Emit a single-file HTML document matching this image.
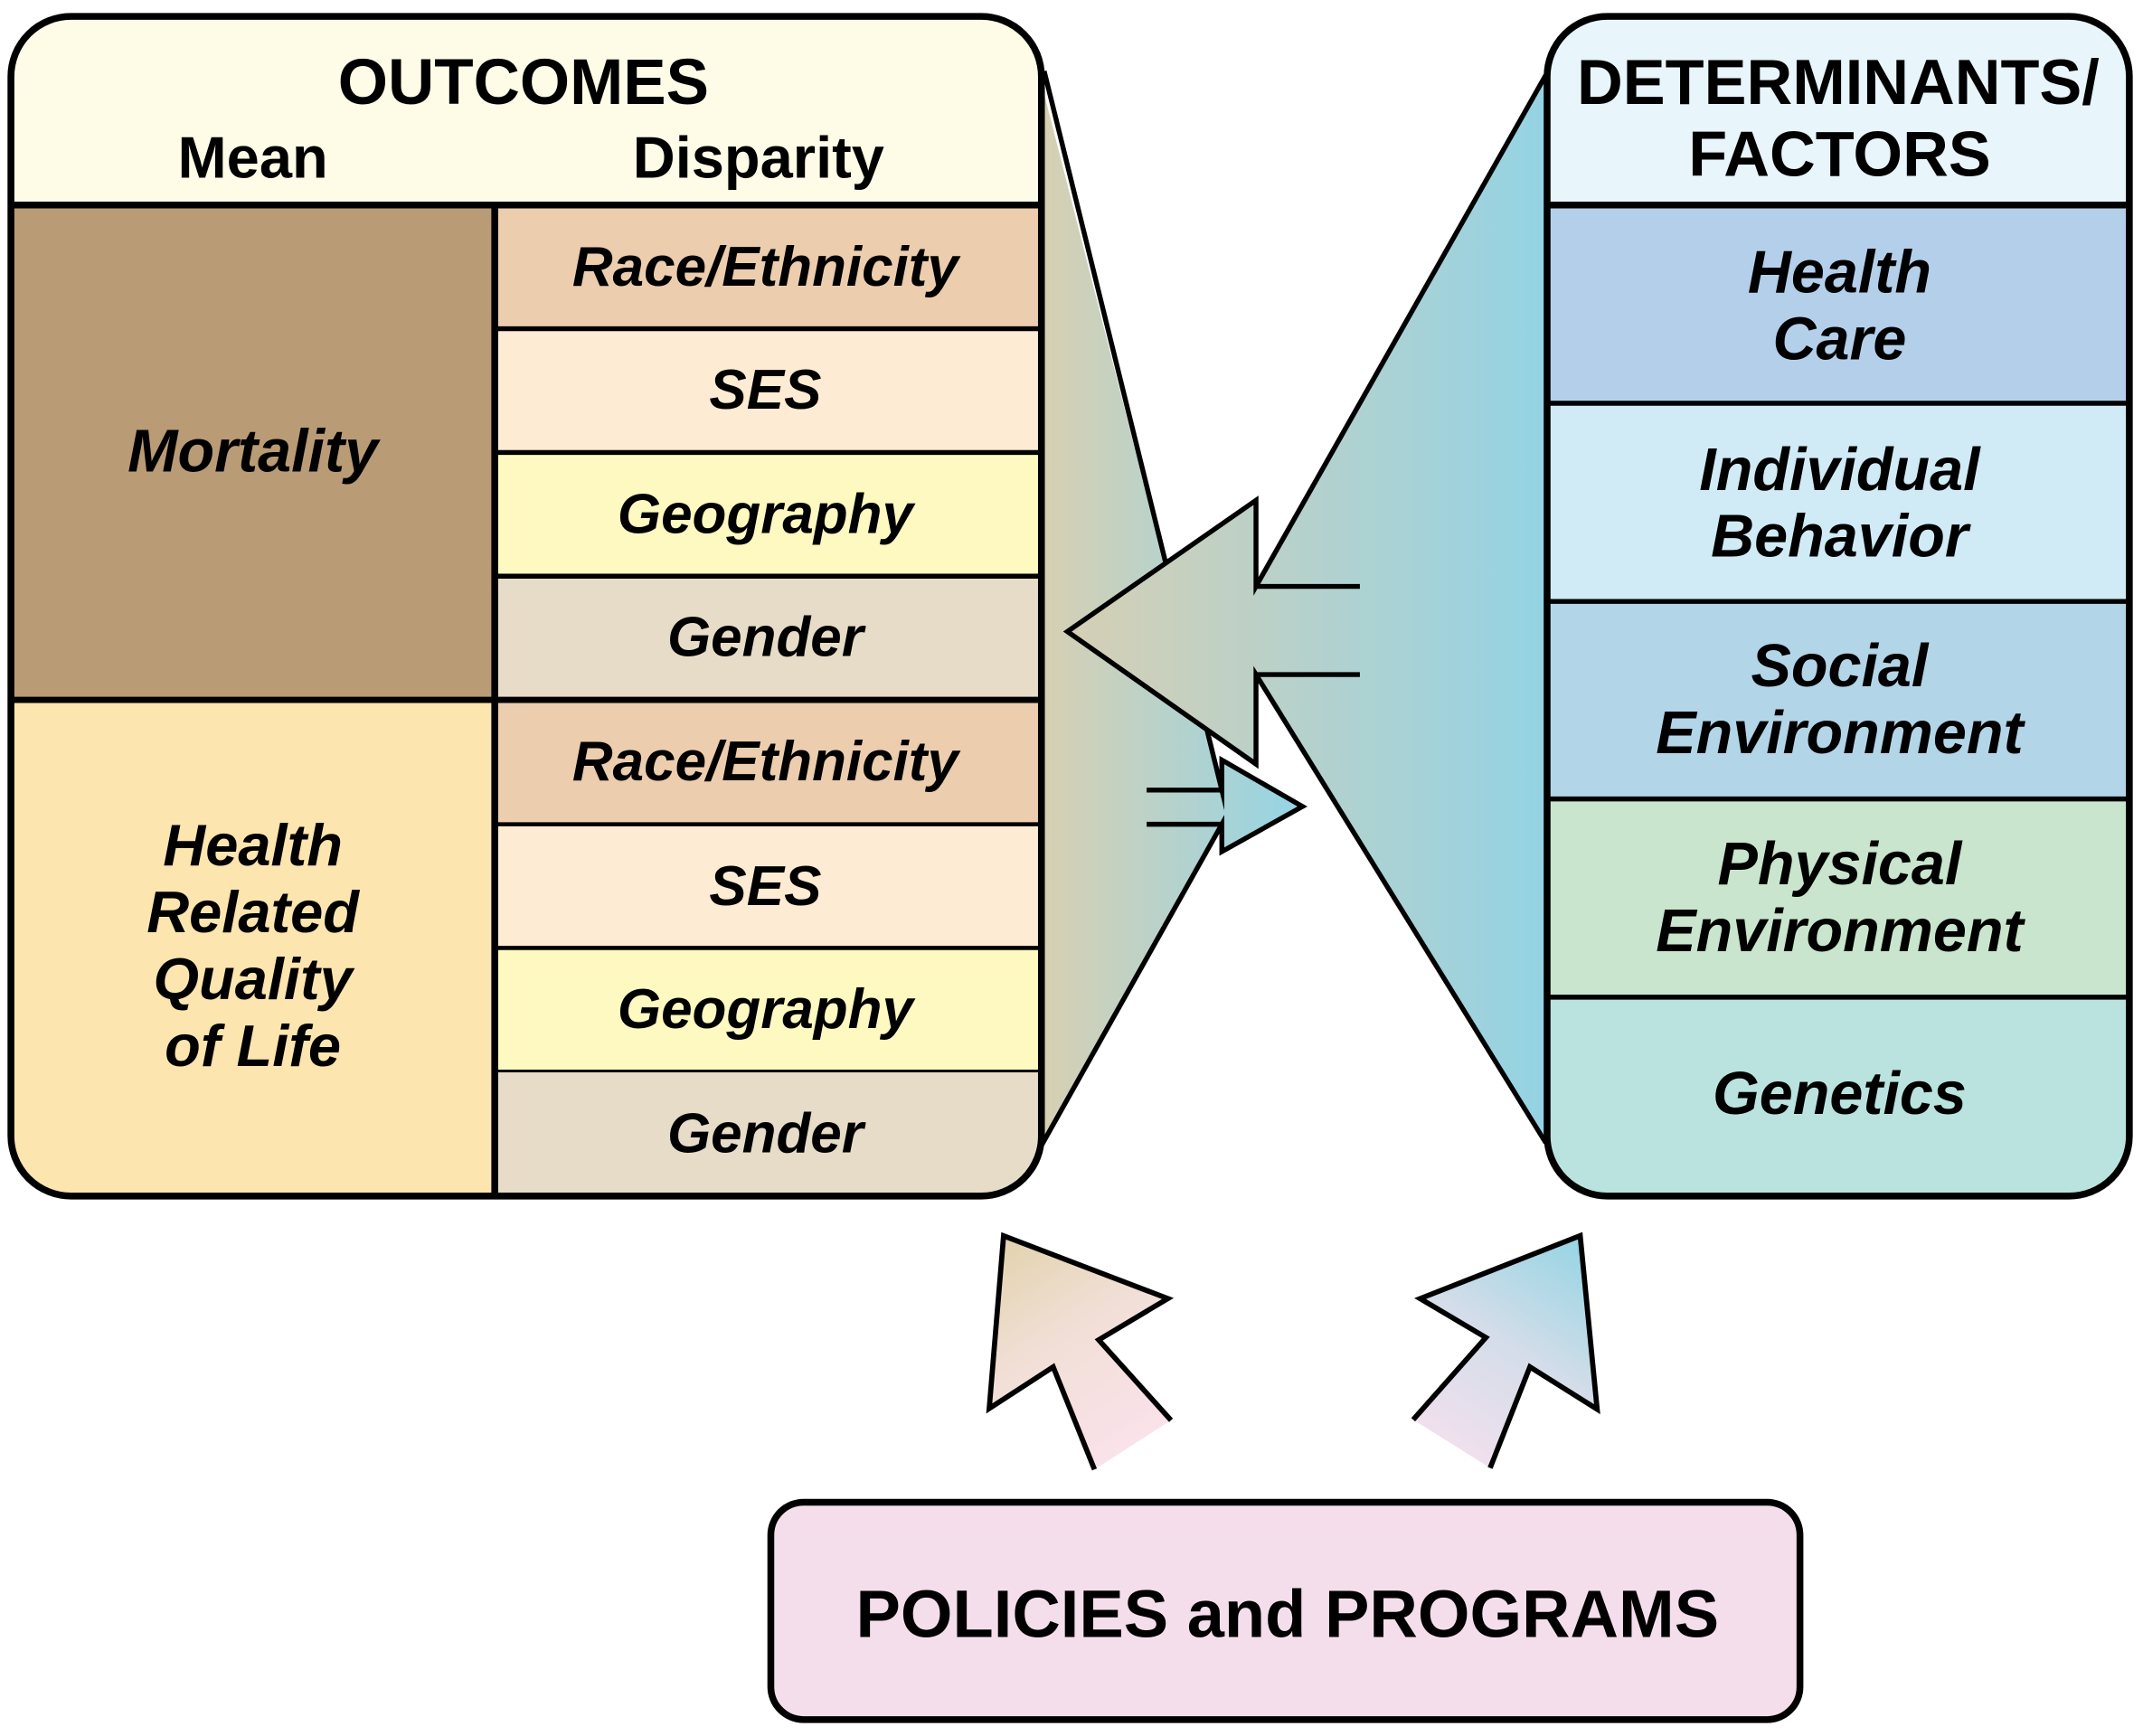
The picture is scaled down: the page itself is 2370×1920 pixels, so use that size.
<!DOCTYPE html>
<html>
<head>
<meta charset="utf-8">
<style>
html,body{margin:0;padding:0;background:#fff;}
svg{display:block;}
text{font-family:"Liberation Sans",Arial,Helvetica,sans-serif;font-weight:bold;fill:#000;}
.it{font-style:italic;}
</style>
</head>
<body>
<svg width="2370" height="1920" viewBox="0 0 1568 1270" preserveAspectRatio="none" xmlns="http://www.w3.org/2000/svg">
<defs>
  <linearGradient id="gL" gradientUnits="userSpaceOnUse" x1="762" y1="0" x2="953" y2="0">
    <stop offset="0" stop-color="#d8d0b2"/>
    <stop offset="1" stop-color="#94d4e5"/>
  </linearGradient>
  <linearGradient id="gR" gradientUnits="userSpaceOnUse" x1="781" y1="0" x2="1131" y2="0">
    <stop offset="0" stop-color="#d6cfb4"/>
    <stop offset="1" stop-color="#94d3e4"/>
  </linearGradient>
  <linearGradient id="gUL" gradientUnits="userSpaceOnUse" x1="730" y1="905" x2="835" y2="1065">
    <stop offset="0" stop-color="#e2d2ac"/>
    <stop offset="0.45" stop-color="#f1dfd6"/>
    <stop offset="1" stop-color="#fbe2ec"/>
  </linearGradient>
  <linearGradient id="gUR" gradientUnits="userSpaceOnUse" x1="1160" y1="905" x2="1055" y2="1065">
    <stop offset="0" stop-color="#94d4e4"/>
    <stop offset="0.5" stop-color="#d3dde9"/>
    <stop offset="1" stop-color="#f4e0ee"/>
  </linearGradient>
  <clipPath id="cO"><rect x="8" y="12" width="754" height="863" rx="44" ry="44"/></clipPath>
  <clipPath id="cD"><rect x="1132" y="12" width="426" height="863" rx="44" ry="44"/></clipPath>
</defs>

<!-- Left funnel with small arrow -->
<path d="M758,45 L894,578 L894,556 L953,590 L894,623 L894,603 L758,845 Z" fill="url(#gL)"/>
<path d="M764,52 L894,578 L894,556 L953,590 L894,623 L894,603 L762,838" fill="none" stroke="#000" stroke-width="3.6" stroke-linejoin="miter" stroke-miterlimit="10"/>
<path d="M839,578 H894 M839,603 H894" stroke="#000" stroke-width="3.6" fill="none"/>

<!-- Right funnel with big arrow -->
<path d="M1136,50 L919,429 L919,366 L781,462 L919,559 L919,493.5 L1136,842 Z" fill="url(#gR)"/>
<path d="M1131,55 L919,429 L919,366 L781,462 L919,559 L919,493.5 L1131,836" fill="none" stroke="#000" stroke-width="3.6" stroke-linejoin="miter" stroke-miterlimit="10"/>
<path d="M919,429 H995 M919,493.5 H995" stroke="#000" stroke-width="3.6" fill="none"/>

<!-- OUTCOMES box -->
<g clip-path="url(#cO)">
  <rect x="0" y="0" width="770" height="150" fill="#fefce7"/>
  <rect x="0" y="150" width="362" height="362" fill="#b99b76"/>
  <rect x="0" y="512" width="362" height="370" fill="#fde5b0"/>
  <rect x="362" y="150" width="410" height="90.5" fill="#eccdae"/>
  <rect x="362" y="240.5" width="410" height="90.5" fill="#feebd3"/>
  <rect x="362" y="331" width="410" height="90.5" fill="#fef9c1"/>
  <rect x="362" y="421.5" width="410" height="90.5" fill="#e6dcc8"/>
  <rect x="362" y="512" width="410" height="91" fill="#eccdae"/>
  <rect x="362" y="603" width="410" height="90.5" fill="#feebd3"/>
  <rect x="362" y="693.5" width="410" height="90" fill="#fef9c1"/>
  <rect x="362" y="783.5" width="410" height="100" fill="#e6dcc8"/>
</g>
<g stroke="#000" fill="none">
  <line x1="8" y1="150" x2="762" y2="150" stroke-width="5"/>
  <line x1="8" y1="512" x2="762" y2="512" stroke-width="4.6"/>
  <line x1="362" y1="150" x2="362" y2="875" stroke-width="5"/>
  <line x1="362" y1="240.5" x2="762" y2="240.5" stroke-width="3.6"/>
  <line x1="362" y1="331" x2="762" y2="331" stroke-width="3.6"/>
  <line x1="362" y1="421.5" x2="762" y2="421.5" stroke-width="3.6"/>
  <line x1="362" y1="603" x2="762" y2="603" stroke-width="3"/>
  <line x1="362" y1="693.5" x2="762" y2="693.5" stroke-width="3"/>
  <line x1="362" y1="783.5" x2="762" y2="783.5" stroke-width="2"/>
  <rect x="8" y="12" width="754" height="863" rx="44" ry="44" stroke-width="5"/>
</g>
<text x="383" y="76" font-size="47" text-anchor="middle">OUTCOMES</text>
<text x="185" y="130" font-size="43" text-anchor="middle">Mean</text>
<text x="555" y="130" font-size="43" text-anchor="middle">Disparity</text>
<text class="it" x="185" y="345" font-size="44" text-anchor="middle">Mortality</text>
<text class="it" x="185" y="633" font-size="43" text-anchor="middle">Health</text>
<text class="it" x="185" y="682" font-size="43" text-anchor="middle">Related</text>
<text class="it" x="185" y="731" font-size="43" text-anchor="middle">Quality</text>
<text class="it" x="185" y="780" font-size="43" text-anchor="middle">of Life</text>
<text class="it" x="560" y="209" font-size="41" text-anchor="middle">Race/Ethnicity</text>
<text class="it" x="560" y="299" font-size="41" text-anchor="middle">SES</text>
<text class="it" x="560" y="390" font-size="41" text-anchor="middle">Geography</text>
<text class="it" x="560" y="480" font-size="41" text-anchor="middle">Gender</text>
<text class="it" x="560" y="571" font-size="41" text-anchor="middle">Race/Ethnicity</text>
<text class="it" x="560" y="662" font-size="41" text-anchor="middle">SES</text>
<text class="it" x="560" y="752" font-size="41" text-anchor="middle">Geography</text>
<text class="it" x="560" y="843" font-size="41" text-anchor="middle">Gender</text>

<!-- DETERMINANTS box -->
<g clip-path="url(#cD)">
  <rect x="1120" y="0" width="450" height="150" fill="#e8f5fb"/>
  <rect x="1120" y="150" width="450" height="145" fill="#b4cfea"/>
  <rect x="1120" y="295" width="450" height="145" fill="#d0ebf6"/>
  <rect x="1120" y="440" width="450" height="144.5" fill="#b3d5e8"/>
  <rect x="1120" y="584.5" width="450" height="145" fill="#c9e5cd"/>
  <rect x="1120" y="729.5" width="450" height="160" fill="#bae3df"/>
</g>
<g stroke="#000" fill="none">
  <line x1="1132" y1="150" x2="1558" y2="150" stroke-width="5"/>
  <line x1="1132" y1="295" x2="1558" y2="295" stroke-width="3.6"/>
  <line x1="1132" y1="440" x2="1558" y2="440" stroke-width="3.6"/>
  <line x1="1132" y1="584.5" x2="1558" y2="584.5" stroke-width="3.6"/>
  <line x1="1132" y1="729.5" x2="1558" y2="729.5" stroke-width="3.6"/>
  <rect x="1132" y="12" width="426" height="863" rx="44" ry="44" stroke-width="5"/>
</g>
<text x="1345" y="76" font-size="46.5" text-anchor="middle">DETERMINANTS/</text>
<text x="1346" y="128.5" font-size="46.5" text-anchor="middle">FACTORS</text>
<text class="it" x="1346" y="214" font-size="44" text-anchor="middle">Health</text>
<text class="it" x="1346" y="263" font-size="44" text-anchor="middle">Care</text>
<text class="it" x="1346" y="358.5" font-size="44" text-anchor="middle">Individual</text>
<text class="it" x="1346" y="407" font-size="44" text-anchor="middle">Behavior</text>
<text class="it" x="1346" y="502" font-size="44" text-anchor="middle">Social</text>
<text class="it" x="1346" y="551" font-size="44" text-anchor="middle">Environment</text>
<text class="it" x="1346" y="647" font-size="44" text-anchor="middle">Physical</text>
<text class="it" x="1346" y="696" font-size="44" text-anchor="middle">Environment</text>
<text class="it" x="1346" y="815" font-size="44" text-anchor="middle">Genetics</text>

<!-- Up arrows -->
<polygon points="734.3,904.1 854.5,950 803.9,980.2 856.8,1039 800.8,1075 770.6,1000 723.8,1030.4" fill="url(#gUL)"/>
<path d="M856.8,1039 L803.9,980.2 L854.5,950 L734.3,904.1 L723.8,1030.4 L770.6,1000 L800.8,1075" fill="none" stroke="#000" stroke-width="3.8" stroke-linejoin="miter" stroke-miterlimit="10"/>

<polygon points="1156.2,904 1039.1,950 1087.2,978.5 1034,1038.6 1090.3,1073.9 1119.4,1000 1168.6,1030.9" fill="url(#gUR)"/>
<path d="M1034,1038.6 L1087.2,978.5 L1039.1,950 L1156.2,904 L1168.6,1030.9 L1119.4,1000 L1090.3,1073.9" fill="none" stroke="#000" stroke-width="3.8" stroke-linejoin="miter" stroke-miterlimit="10"/>

<!-- Policies box -->
<rect x="564" y="1099" width="753" height="159" rx="24" ry="24" fill="#f5deec" stroke="#000" stroke-width="5"/>
<text x="942" y="1197.5" font-size="49" text-anchor="middle">POLICIES and PROGRAMS</text>
</svg>
</body>
</html>
